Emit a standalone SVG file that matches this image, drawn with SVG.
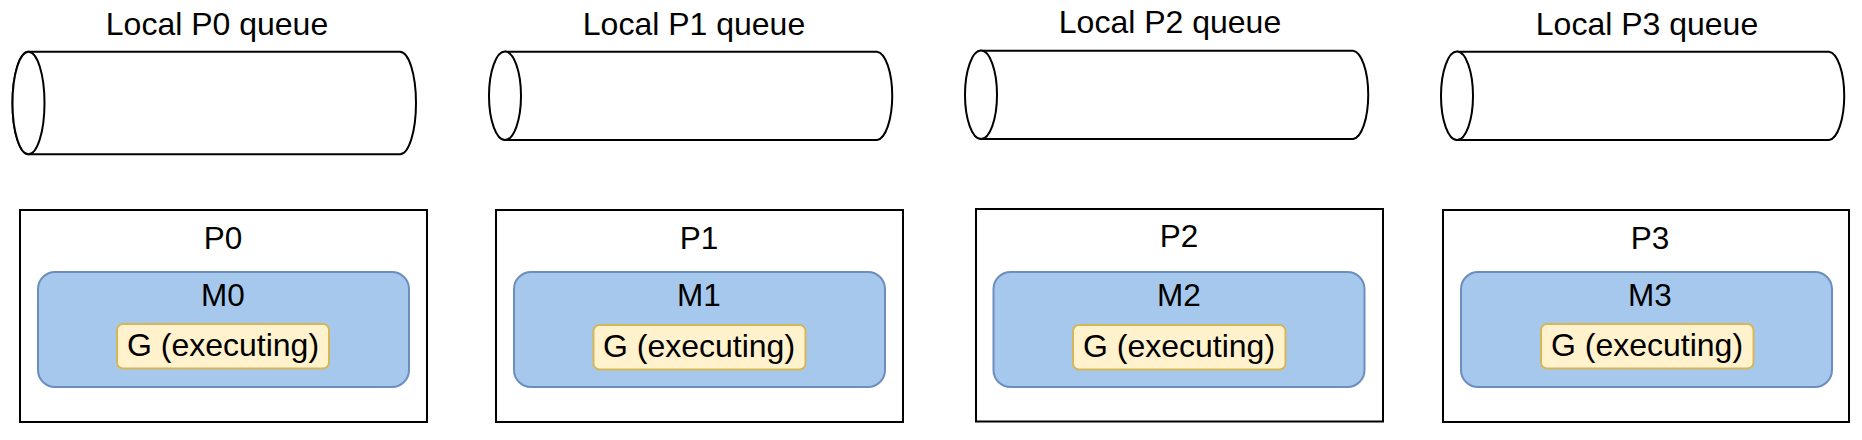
<svg xmlns="http://www.w3.org/2000/svg" width="1862" height="440" viewBox="0 0 1862 440">
<style>
text{font-family:"Liberation Sans",Arial,sans-serif;fill:#000;text-anchor:middle}
.t{font-size:32px}
.l{font-size:31.5px}
.g{font-size:32px}
.cyl{fill:#fff;stroke:#000;stroke-width:2}
.p{fill:#fff;stroke:#000;stroke-width:2}
.m{fill:#a6c8ec;stroke:#6c8ebf;stroke-width:2}
.gx{fill:#fff2cc;stroke:#d6b656;stroke-width:2}
</style>
<rect width="1862" height="440" fill="#fff"/>
<g id="queue0">
<text class="t" x="217" y="35">Local P0 queue</text>
<path class="cyl" d="M28.5,51.7 H400 A16,51.3 0 0 1 400,154.3 H28.5 A16,51.3 0 0 1 28.5,51.7 Z"/>
<ellipse class="cyl" cx="28.5" cy="103" rx="16" ry="51.3"/>
</g>
<g id="queue1">
<text class="t" x="694" y="35">Local P1 queue</text>
<path class="cyl" d="M505,51.7 H877 A16,44.2 0 0 1 877,140 H505 A16,44.2 0 0 1 505,51.7 Z"/>
<ellipse class="cyl" cx="505" cy="95.8" rx="16" ry="44.2"/>
</g>
<g id="queue2">
<text class="t" x="1170" y="33">Local P2 queue</text>
<path class="cyl" d="M981,50.7 H1353 A16,44.2 0 0 1 1353,139 H981 A16,44.2 0 0 1 981,50.7 Z"/>
<ellipse class="cyl" cx="981" cy="94.8" rx="16" ry="44.2"/>
</g>
<g id="queue3">
<text class="t" x="1647" y="35">Local P3 queue</text>
<path class="cyl" d="M1457,51.7 H1829 A16,44.2 0 0 1 1829,140 H1457 A16,44.2 0 0 1 1457,51.7 Z"/>
<ellipse class="cyl" cx="1457" cy="95.8" rx="16" ry="44.2"/>
</g>
<g id="P0">
<rect class="p" x="20" y="210" width="407" height="212"/>
<text class="l" x="223" y="249">P0</text>
<g id="M0">
<rect class="m" x="38" y="272" width="371" height="115" rx="17"/>
<text class="l" x="223" y="306">M0</text>
<g id="G0">
<rect class="gx" x="117" y="324" width="212" height="44.5" rx="6"/>
<text class="g" x="223" y="356">G (executing)</text>
</g>
</g>
</g>
<g id="P1">
<rect class="p" x="496" y="210" width="407" height="212"/>
<text class="l" x="699" y="249">P1</text>
<g id="M1">
<rect class="m" x="514" y="272" width="371" height="115" rx="17"/>
<text class="l" x="699" y="306">M1</text>
<g id="G1">
<rect class="gx" x="593.5" y="325" width="212" height="44.5" rx="6"/>
<text class="g" x="699" y="357">G (executing)</text>
</g>
</g>
</g>
<g id="P2">
<rect class="p" x="976" y="209" width="407" height="212.5"/>
<text class="l" x="1179" y="247">P2</text>
<g id="M2">
<rect class="m" x="993.5" y="272" width="371" height="115" rx="17"/>
<text class="l" x="1179" y="306">M2</text>
<g id="G2">
<rect class="gx" x="1073" y="325" width="212.5" height="44.5" rx="6"/>
<text class="g" x="1179" y="357">G (executing)</text>
</g>
</g>
</g>
<g id="P3">
<rect class="p" x="1443" y="210" width="406" height="212"/>
<text class="l" x="1650" y="249">P3</text>
<g id="M3">
<rect class="m" x="1461" y="272" width="371" height="115" rx="17"/>
<text class="l" x="1650" y="306">M3</text>
<g id="G3">
<rect class="gx" x="1541" y="324" width="212.5" height="44.5" rx="6"/>
<text class="g" x="1647" y="356">G (executing)</text>
</g>
</g>
</g>
<g id="connectors"/>
</svg>
